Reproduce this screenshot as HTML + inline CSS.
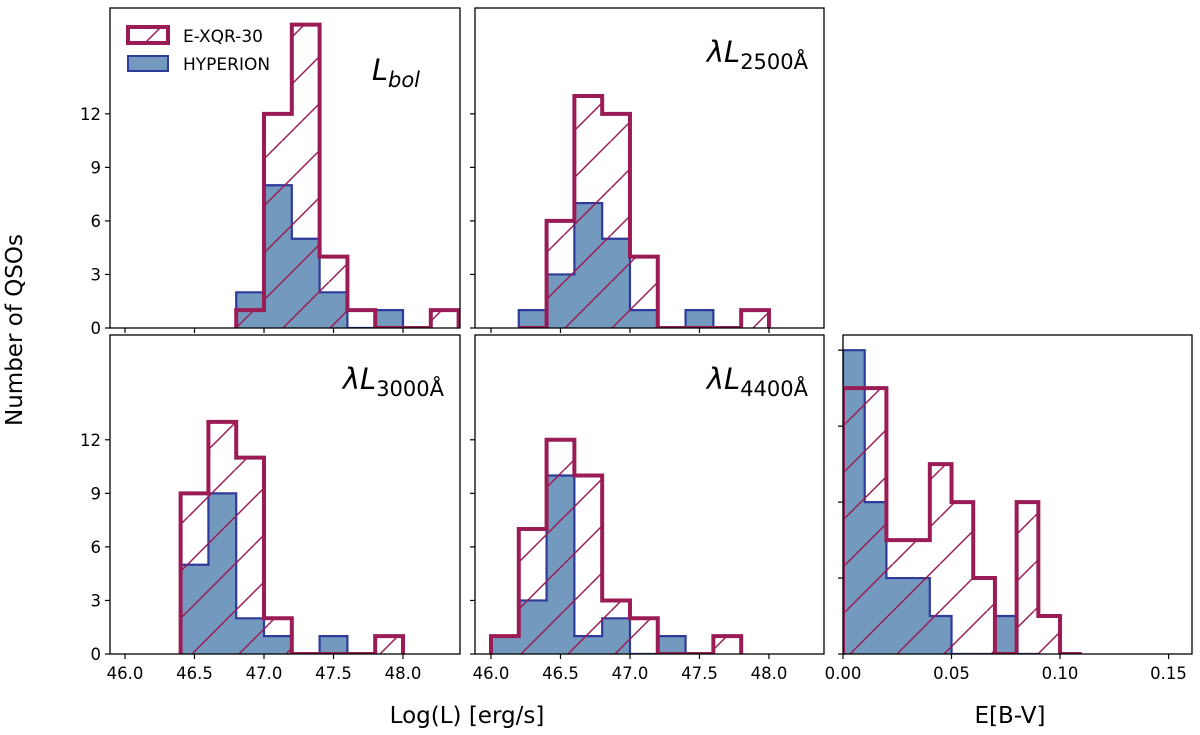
<!DOCTYPE html>
<html><head><meta charset="utf-8"><style>
body{margin:0;background:#fff;}
svg{display:block;font-family:"DejaVu Sans","Liberation Sans",sans-serif;}
</style></head><body>
<svg id="chart" width="1200" height="735" viewBox="0 0 1200 735">
<defs>
<pattern id="hatch" patternUnits="userSpaceOnUse" width="47" height="47" patternTransform="translate(0,0)">
<line x1="0" y1="47" x2="47" y2="0" stroke="#9b1b55" stroke-width="1.5"/>
<line x1="-47" y1="47" x2="0" y2="0" stroke="#9b1b55" stroke-width="1.5"/>
<line x1="47" y1="47" x2="94" y2="0" stroke="#9b1b55" stroke-width="1.5"/>
</pattern>
</defs>
<g id="plots"></g>
<text x="22" y="330" font-size="23" text-anchor="middle" transform="rotate(-90 22 330)">Number of QSOs</text>
<text x="467" y="723" font-size="23" text-anchor="middle">Log(L) [erg/s]</text>
<text x="1010" y="723" font-size="23" text-anchor="middle">E[B-V]</text>
<g>
<rect x="128" y="27" width="40" height="16" fill="url(#hatch)" stroke="#9b1b55" stroke-width="4"/>
<text x="183" y="42" font-size="17">E-XQR-30</text>
<rect x="128" y="56" width="40" height="15" fill="#7399bf" stroke="#2f3a9a" stroke-width="2"/>
<text x="183" y="70" font-size="17">HYPERION</text>
</g>
</svg>
<script>
// Bin starts / widths
const lumBinWidth = 0.2;
const ebvBinWidth = 0.01;
// Panel 1: Lbol
const lbolStart = 46.8;
const lbolExqr = [1, 12, 17, 4, 1, 0, 0, 1];
const lbolHyp = [2, 8, 5, 2, 0, 1];
// Panel 2: 2500A
const l2500Start = 46.2;
const l2500Exqr = [0, 6, 13, 12, 4, 0, 0, 0, 1];
const l2500Hyp = [1, 3, 7, 5, 1, 0, 1];
// Panel 3: 3000A
const l3000Start = 46.4;
const l3000Exqr = [9, 13, 11, 2, 0, 0, 0, 1];
const l3000Hyp = [5, 9, 2, 1, 0, 1];
// Panel 4: 4400A
const l4400Start = 46.0;
const l4400Exqr = [1, 7, 12, 10, 3, 2, 0, 0, 1];
const l4400Hyp = [1, 3, 10, 1, 2, 0, 1];
// Panel 5: E(B-V)
const ebvStart = 0.0;
const ebvExqr = [3.5, 3.5, 1.5, 1.5, 2.5, 2.0, 1.0, 0, 2.0, 0.5, 0];
const ebvHyp = [4.0, 2.0, 1.0, 1.0, 0.5, 0, 0, 0.5, 0];
// Ticks
const lumTicks = [46.0, 46.5, 47.0, 47.5, 48.0];
const lumTickLabels = ["46.0", "46.5", "47.0", "47.5", "48.0"];
const countTicks = [0, 3, 6, 9, 12];
const ebvXTicks = [0.0, 0.05, 0.10, 0.15];
const ebvXTickLabels = ["0.00", "0.05", "0.10", "0.15"];
const ebvYTicks = [0, 1, 2, 3, 4];

const NS = "http://www.w3.org/2000/svg";
const root = document.getElementById('plots');
function mk(tag, attrs, parent) {
  const e = document.createElementNS(NS, tag);
  for (const k in attrs) e.setAttribute(k, attrs[k]);
  parent.appendChild(e);
  return e;
}
function panel(cfg) {
  const g = mk('g', {}, root);
  
  
  const sx = v => cfg.x0 + (v - cfg.xd[0]) / (cfg.xd[1] - cfg.xd[0]) * (cfg.x1 - cfg.x0);
  const sy = v => cfg.y1 - (v - cfg.yd[0]) / (cfg.yd[1] - cfg.yd[0]) * (cfg.y1 - cfg.y0);
  const clipId = 'clip-' + cfg.name;
  const cp = mk('clipPath', {id: clipId}, g);
  mk('rect', {x: cfg.x0, y: cfg.y0, width: cfg.x1 - cfg.x0, height: cfg.y1 - cfg.y0}, cp);
  const dg = mk('g', {'clip-path': 'url(#' + clipId + ')'}, g);
  function stepPath(vals) {
    let d = 'M' + sx(cfg.start) + ',' + sy(0);
    vals.forEach((v, i) => {
      const a = sx(cfg.start + i * cfg.bw), b = sx(cfg.start + (i + 1) * cfg.bw);
      d += ' L' + a + ',' + sy(v) + ' L' + b + ',' + sy(v);
    });
    d += ' L' + sx(cfg.start + vals.length * cfg.bw) + ',' + sy(0);
    return d;
  }
  const hf = mk('path', {d: stepPath(cfg.hyp) + ' Z', fill: '#7399bf', stroke: 'none'}, dg);
  
  
  const hs = mk('path', {d: stepPath(cfg.hyp), fill: 'none', stroke: '#2f3a9a', 'stroke-width': 2.2, 'stroke-linejoin': 'miter'}, dg);
  
  
  const ef = mk('path', {d: stepPath(cfg.exqr) + ' Z', fill: 'url(#hatch)', stroke: 'none'}, dg);
  
  
  const es = mk('path', {d: stepPath(cfg.exqr), fill: 'none', stroke: '#9b1b55', 'stroke-width': 4, 'stroke-linejoin': 'miter'}, dg);
  
  
  const fr = mk('rect', {x: cfg.x0, y: cfg.y0, width: cfg.x1 - cfg.x0, height: cfg.y1 - cfg.y0, fill: 'none', stroke: '#000', 'stroke-width': 1.3}, g);
  
  
  cfg.xt.forEach((t, i) => {
    const x = sx(t);
    const tl = mk('line', {x1: x, x2: x, y1: cfg.y1, y2: cfg.y1 + 5, stroke: '#000', 'stroke-width': 1.2}, g);
    
    
    if (cfg.xl) {
      const tx = mk('text', {x: x, y: cfg.y1 + 25, 'font-size': 16.5, 'text-anchor': 'middle'}, g);
      tx.textContent = cfg.xl[i];
      
      
    }
  });
  cfg.yt.forEach(t => {
    const y = sy(t);
    const tl = mk('line', {x1: cfg.x0 - 5, x2: cfg.x0, y1: y, y2: y, stroke: '#000', 'stroke-width': 1.2}, g);
    
    
    if (cfg.ylab) {
      const tx = mk('text', {x: cfg.x0 - 9, y: y + 6, 'font-size': 16.5, 'text-anchor': 'end'}, g);
      tx.textContent = String(t);
      
      
    }
  });
  if (cfg.title) {
    const tt = mk('text', {x: cfg.tx, y: cfg.ty, 'font-size': 29, 'font-style': 'italic', 'text-anchor': 'end'}, g);
    tt.innerHTML = cfg.title;
    
    
  }
}
const topYD = [0, 17.93], botYD = [0, 17.87];
panel({name: 'panel-lbol', x0: 110, x1: 460, y0: 8, y1: 328, xd: [45.892, 48.41], yd: topYD,
  start: lbolStart, bw: lumBinWidth, exqr: lbolExqr, hyp: lbolHyp, xt: lumTicks, xl: null, yt: countTicks, ylab: true,
  title: 'L<tspan font-size="21" dy="7">bol</tspan>', tx: 420, ty: 80});
panel({name: 'panel-l2500', x0: 475, x1: 824, y0: 8, y1: 328, xd: [45.885, 48.396], yd: topYD,
  start: l2500Start, bw: lumBinWidth, exqr: l2500Exqr, hyp: l2500Hyp, xt: lumTicks, xl: null, yt: countTicks, ylab: false,
  title: 'λL<tspan font-size="21" font-style="normal" dy="7">2500Å</tspan>', tx: 808, ty: 62});
panel({name: 'panel-l3000', x0: 110, x1: 460, y0: 335, y1: 654, xd: [45.892, 48.41], yd: botYD,
  start: l3000Start, bw: lumBinWidth, exqr: l3000Exqr, hyp: l3000Hyp, xt: lumTicks, xl: lumTickLabels, yt: countTicks, ylab: true,
  title: 'λL<tspan font-size="21" font-style="normal" dy="7">3000Å</tspan>', tx: 444, ty: 389});
panel({name: 'panel-l4400', x0: 475, x1: 824, y0: 335, y1: 654, xd: [45.885, 48.396], yd: botYD,
  start: l4400Start, bw: lumBinWidth, exqr: l4400Exqr, hyp: l4400Hyp, xt: lumTicks, xl: lumTickLabels, yt: countTicks, ylab: false,
  title: 'λL<tspan font-size="21" font-style="normal" dy="7">4400Å</tspan>', tx: 808, ty: 389});
panel({name: 'panel-ebv', x0: 843, x1: 1192, y0: 335, y1: 654, xd: [0, 0.1608], yd: [0, 4.2],
  start: ebvStart, bw: ebvBinWidth, exqr: ebvExqr, hyp: ebvHyp, xt: ebvXTicks, xl: ebvXTickLabels, yt: ebvYTicks, ylab: false, title: null});
</script>
</body></html>
